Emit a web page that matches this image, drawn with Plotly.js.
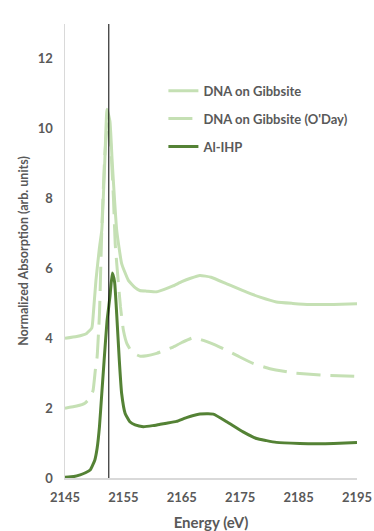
<!DOCTYPE html>
<html><head><meta charset="utf-8">
<script src="https://cdn.plot.ly/plotly-3.0.1.min.js"></script>
<style>html,body{margin:0;padding:0;background:#fff;}#chart{width:374px;height:531px;}</style>
</head><body><div id="chart"></div>
<script>
const seriesNames = ["DNA on Gibbsite", "DNA on Gibbsite (O'Day)", "Al-IHP"];

const energyDna = [2145, 2147, 2148.7, 2149.6, 2149.85, 2150.3, 2150.9, 2151.3, 2151.8, 2152.2, 2152.7, 2153.1, 2153.85, 2154.7, 2155.85, 2157, 2157.8, 2159, 2160.7, 2162, 2163.5, 2165, 2166.5, 2168.1, 2170, 2172.7, 2176.1, 2178.4, 2181.2, 2184, 2187, 2191, 2195];
const absDna = [4.0, 4.05, 4.14, 4.3, 4.7, 5.66, 6.6, 7.1, 9.0, 10.56, 10.2, 9.0, 7.1, 6.14, 5.66, 5.45, 5.37, 5.35, 5.33, 5.4, 5.5, 5.62, 5.72, 5.8, 5.75, 5.56, 5.32, 5.18, 5.04, 5.0, 4.97, 4.97, 4.99];

const energyOday = [2145, 2147, 2148.4, 2149.3, 2149.8, 2150.2, 2150.5, 2150.9, 2151.3, 2151.8, 2152.3, 2152.8, 2153.3, 2153.6, 2154.1, 2154.5, 2155, 2155.6, 2156.5, 2157.8, 2159, 2160.7, 2162, 2163.5, 2165, 2167, 2168.7, 2171.5, 2174.4, 2177.2, 2180.1, 2184.1, 2189.8, 2195];
const absOday = [2.0, 2.06, 2.14, 2.3, 2.5, 3.1, 3.47, 4.7, 7.1, 9.2, 10.2, 9.6, 8.0, 6.7, 5.66, 4.9, 4.23, 3.85, 3.6, 3.49, 3.5, 3.57, 3.65, 3.75, 3.88, 4.02, 3.94, 3.75, 3.51, 3.28, 3.13, 3.01, 2.94, 2.91];

const energyIhp = [2145, 2146.5, 2147.6, 2148.5, 2149.3, 2150.1, 2150.5, 2150.9, 2151.3, 2151.7, 2152.2, 2152.7, 2153.1, 2153.5, 2153.85, 2154.3, 2154.7, 2155.3, 2156.1, 2157, 2158.4, 2160, 2161.3, 2162.4, 2164.1, 2165.8, 2168.1, 2170.4, 2172.7, 2175.5, 2177.8, 2179.5, 2181.2, 2185.2, 2188.1, 2191, 2195];
const absIhp = [0.02, 0.04, 0.09, 0.15, 0.23, 0.51, 0.85, 1.47, 2.42, 3.37, 4.5, 5.2, 5.87, 5.6, 4.7, 3.37, 2.42, 1.85, 1.61, 1.52, 1.47, 1.5, 1.54, 1.57, 1.62, 1.73, 1.83, 1.83, 1.61, 1.32, 1.13, 1.07, 1.02, 0.99, 0.98, 0.99, 1.02];

const edgeEnergy = 2152.5;
const xTicks = [2145, 2155, 2165, 2175, 2185, 2195];
const yTicks = [0, 2, 4, 6, 8, 10, 12];

const light = '#c5e0b4', dark = '#548235';
const fnt = 'Lato, "Open Sans", sans-serif';

const traces = [
  {x: energyDna, y: absDna, name: '<b>' + seriesNames[0] + '</b>', legendgroup: 'a', mode: 'lines',
   line: {color: light, width: 3, shape: 'spline', smoothing: 0.4}},
  {x: energyOday, y: absOday, name: '<b>' + seriesNames[1] + '</b>', legendgroup: 'b', mode: 'lines',
   line: {color: light, width: 3, dash: '24px,10px', shape: 'spline', smoothing: 0.4}},
  {x: energyIhp, y: absIhp, name: '<b>' + seriesNames[2] + '</b>', legendgroup: 'c', mode: 'lines',
   line: {color: dark, width: 3, shape: 'spline', smoothing: 0.4}}
];

const layout = {
  width: 374, height: 531,
  margin: {l: 65, r: 17, t: 24, b: 53},
  paper_bgcolor: '#fff', plot_bgcolor: '#fff',
  font: {family: fnt, color: '#595959', size: 12},
  showlegend: true,
  legend: {x: 0.337, y: 0.886, xanchor: 'left', yanchor: 'top', traceorder: 'grouped', tracegroupgap: 8,
           font: {family: fnt, size: 13, color: '#595959'}, bgcolor: 'rgba(0,0,0,0)'},
  xaxis: {range: [2145, 2195], tickvals: xTicks, ticktext: xTicks.map(String),
          showgrid: false, zeroline: false, showline: true, linecolor: '#d9d9d9', linewidth: 1.5,
          ticks: '', ticklabelstandoff: 7, tickfont: {family: fnt, size: 13, color: '#595959', weight: 700},
          title: {text: '<b>Energy (eV)</b>', font: {family: fnt, size: 15, color: '#595959'}, standoff: 13}},
  yaxis: {range: [0, 13], tickvals: yTicks, ticktext: yTicks.map(String),
          showgrid: false, zeroline: false, showline: true, linecolor: '#d9d9d9', linewidth: 1.5,
          ticks: '', ticklabelstandoff: 8, tickfont: {family: fnt, size: 13, color: '#595959', weight: 700},
          title: {text: '<b>Normalized Absorption (arb. units)</b>', font: {family: fnt, size: 12.5, color: '#595959'}, standoff: 6}},
  shapes: [{type: 'line', xref: 'x', yref: 'paper', x0: edgeEnergy, x1: edgeEnergy, y0: 0, y1: 1,
            line: {color: '#000', width: 1}}]
};

Plotly.newPlot('chart', traces, layout, {displayModeBar: false, staticPlot: true});
</script></body></html>
